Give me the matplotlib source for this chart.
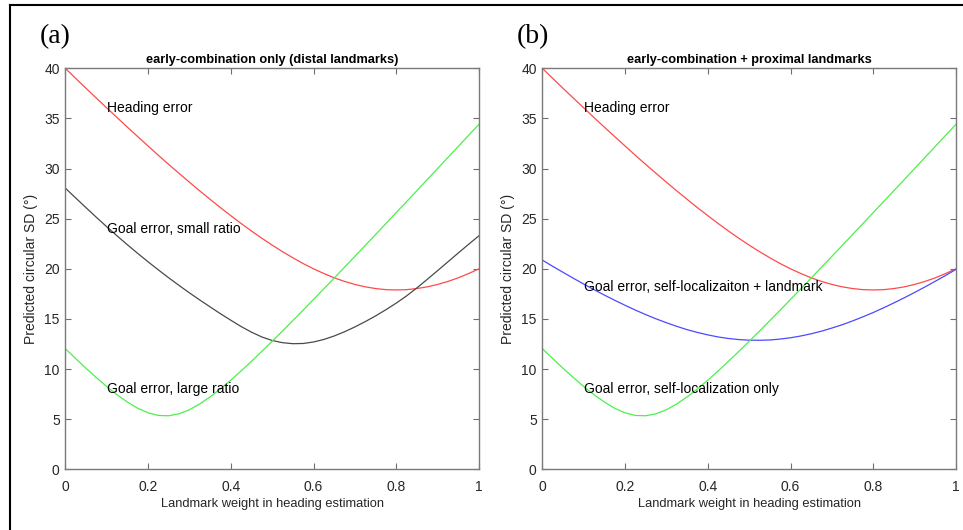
import matplotlib.pyplot as plt
from matplotlib.lines import Line2D

plt.rcParams['font.family'] = ['Liberation Sans', 'DejaVu Sans']

# landmark weight in heading estimation
weight = [0.000, 0.025, 0.050, 0.075, 0.100, 0.125, 0.150, 0.175, 0.200, 0.225,
          0.250, 0.275, 0.300, 0.325, 0.350, 0.375, 0.400, 0.425, 0.450, 0.475,
          0.500, 0.525, 0.550, 0.575, 0.600, 0.625, 0.650, 0.675, 0.700, 0.725,
          0.750, 0.775, 0.800, 0.825, 0.850, 0.875, 0.900, 0.925, 0.950, 0.975, 1.000]

# predicted circular SD (deg)
heading_err = [40.0, 39.0, 38.01, 37.03, 36.06, 35.09, 34.13, 33.19, 32.25, 31.32,
               30.41, 29.52, 28.64, 27.77, 26.93, 26.1, 25.3, 24.52, 23.77, 23.05,
               22.36, 21.71, 21.1, 20.52, 20.0, 19.53, 19.1, 18.74, 18.44, 18.2,
               18.03, 17.92, 17.89, 17.92, 18.03, 18.2, 18.44, 18.74, 19.1, 19.53, 20.0]
goal_small_ratio = [28.05, 27.07, 26.1, 25.14, 24.2, 23.29, 22.4, 21.54, 20.7, 19.89,
                    19.1, 18.34, 17.6, 16.89, 16.2, 15.52, 14.87, 14.24, 13.68, 13.2,
                    12.85, 12.63, 12.53, 12.55, 12.7, 12.95, 13.3, 13.72, 14.2, 14.73,
                    15.3, 15.92, 16.58, 17.3, 18.1, 18.95, 19.82, 20.7, 21.58, 22.45, 23.3]
goal_large_ratio = [12.04, 11.05, 10.08, 9.15, 8.26, 7.44, 6.71, 6.09, 5.63, 5.37,
                    5.34, 5.54, 5.94, 6.52, 7.22, 8.02, 8.89, 9.81, 10.77, 11.76,
                    12.77, 13.79, 14.83, 15.88, 16.94, 18.01, 19.08, 20.16, 21.24, 22.33,
                    23.42, 24.51, 25.61, 26.7, 27.8, 28.9, 30.0, 31.11, 32.21, 33.32, 34.42]
goal_self_loc_landmark = [20.87, 20.25, 19.65, 19.06, 18.48, 17.92, 17.38, 16.86, 16.36, 15.88,
                          15.43, 15.01, 14.62, 14.26, 13.93, 13.65, 13.41, 13.2, 13.05, 12.94,
                          12.88, 12.87, 12.9, 12.99, 13.12, 13.3, 13.52, 13.78, 14.09, 14.42,
                          14.8, 15.21, 15.64, 16.11, 16.6, 17.11, 17.64, 18.19, 18.76, 19.34, 19.94]
goal_self_loc_only = goal_large_ratio  # same curve in both panels

xticks = [0, 0.2, 0.4, 0.6, 0.8, 1]
xticklabels = ['0', '0.2', '0.4', '0.6', '0.8', '1']
yticks = [0, 5, 10, 15, 20, 25, 30, 35, 40]

W, H = 963, 530
fig = plt.figure(figsize=(W / 100, H / 100), dpi=100)
ax1 = fig.add_axes([65.3 / W, 60.7 / H, 413.7 / W, 401 / H])
ax2 = fig.add_axes([542.3 / W, 60.7 / H, 413.7 / W, 401 / H])

lw = 0.9
fs = 10
red, green, black, blue = '#ff4a4a', '#4cf04c', '#4a4a4a', '#4a4aff'

ax1.plot(weight, heading_err, color=red, lw=lw)
ax1.plot(weight, goal_small_ratio, color=black, lw=lw)
ax1.plot(weight, goal_large_ratio, color=green, lw=lw)
ax1.text(0.1, 36, 'Heading error', fontsize=fs, va='center')
ax1.text(0.1, 24, 'Goal error, small ratio', fontsize=fs, va='center')
ax1.text(0.1, 8, 'Goal error, large ratio', fontsize=fs, va='center')
ax1.set_title('early-combination only (distal landmarks)', fontsize=9.2, fontweight='bold', pad=3.5)

ax2.plot(weight, heading_err, color=red, lw=lw)
ax2.plot(weight, goal_self_loc_landmark, color=blue, lw=lw)
ax2.plot(weight, goal_self_loc_only, color=green, lw=lw)
ax2.text(0.1, 36, 'Heading error', fontsize=fs, va='center')
ax2.text(0.1, 18.2, 'Goal error, self-localizaiton + landmark', fontsize=fs, va='center')
ax2.text(0.1, 8, 'Goal error, self-localization only', fontsize=fs, va='center')
ax2.set_title('early-combination + proximal landmarks', fontsize=9.2, fontweight='bold', pad=3.5)

for ax in [ax1, ax2]:
    ax.set_xlim(0, 1)
    ax.set_ylim(0, 40)
    ax.set_xticks(xticks)
    ax.set_xticklabels(xticklabels)
    ax.set_yticks(yticks)
    ax.tick_params(direction='in', length=4, width=0.8, color='#6e6e6e', labelsize=10,
                   top=True, right=True, labelcolor='#262626')
    ax.tick_params(axis='x', pad=8)
    ax.tick_params(axis='y', pad=4)
    for s in ax.spines.values():
        s.set_color('#7a7a7a')
        s.set_linewidth(1.0)
    ax.set_xlabel('Landmark weight in heading estimation', fontsize=9.3, color='#262626')
    ax.set_ylabel('Predicted circular SD (°)', fontsize=10, color='#262626')
    ax.xaxis.set_label_coords(0.5, -0.072)
    ax.yaxis.set_label_coords(-0.066, 0.5)

fig.text(40 / W, 1 - 37 / H, '(a)', fontsize=20, family='Liberation Serif', va='center')
fig.text(517 / W, 1 - 37 / H, '(b)', fontsize=20, family='Liberation Serif', va='center')

# frame around the figure (top and left edge)
fig.add_artist(Line2D([10 / W, 1], [1 - 5 / H, 1 - 5 / H], color='black', lw=1.5))
fig.add_artist(Line2D([10 / W, 10 / W], [0, 1 - 5 / H], color='black', lw=1.5))

fig.savefig('out.png', dpi=100)
